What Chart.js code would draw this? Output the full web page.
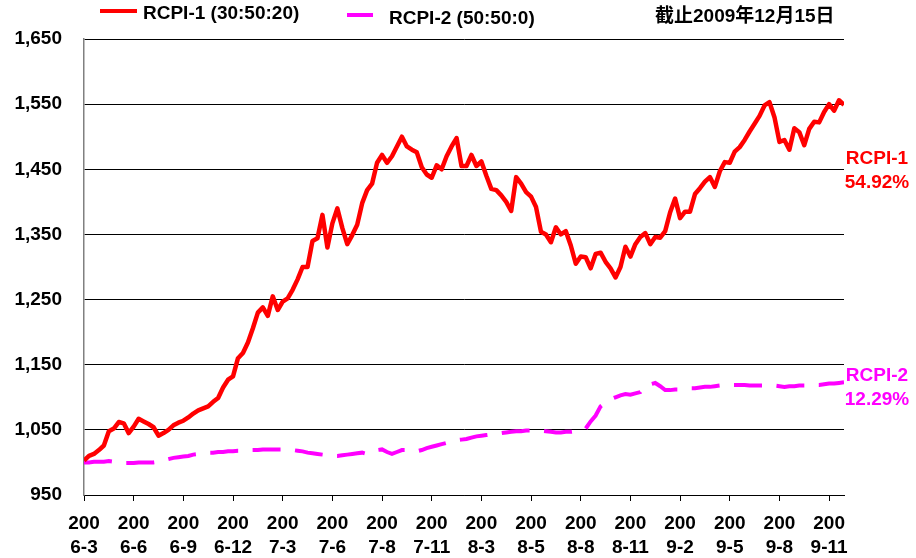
<!DOCTYPE html>
<html>
<head>
<meta charset="utf-8">
<script src="https://cdn.jsdelivr.net/npm/chart.js@4/dist/chart.umd.min.js"></script>
<style>
  html, body { margin: 0; padding: 0; background: #fff; }
  #wrap { position: relative; width: 916px; height: 558px; }
</style>
</head>
<body>
<div id="wrap"><canvas id="rcpiChart"></canvas></div>
<script>
// Tick labels on the x axis (one every 10 points)
const tickLabels = ['2006-3', '2006-6', '2006-9', '2006-12', '2007-3', '2007-6', '2007-8', '2007-11',
                    '2008-3', '2008-5', '2008-8', '2008-11', '2009-2', '2009-5', '2009-8', '2009-11'];

// RCPI-1 (30:50:20)
const rcpi1 = [
  1003, 1010, 1013, 1019, 1026, 1048, 1052, 1062, 1060, 1045,
  1055, 1067, 1063, 1059, 1054, 1041, 1045, 1050, 1057, 1061,
  1064, 1069, 1075, 1080, 1083, 1086, 1093, 1099, 1115, 1127,
  1132, 1160, 1168, 1184, 1206, 1230, 1238, 1225, 1255, 1234,
  1247, 1252, 1265, 1281, 1300, 1300, 1340, 1344, 1380, 1330,
  1367, 1390, 1360, 1335, 1349, 1365, 1398, 1418, 1428, 1460,
  1472, 1460, 1470, 1485, 1500, 1485, 1480, 1476, 1453, 1442,
  1437, 1456, 1450, 1470, 1485, 1498, 1455, 1455, 1472, 1455,
  1462, 1440, 1420, 1418, 1410, 1400, 1386, 1438, 1428, 1415,
  1408, 1392, 1354, 1350, 1338, 1361, 1350, 1355, 1333, 1305,
  1316, 1315, 1298, 1320, 1322, 1308, 1298, 1284, 1300, 1331,
  1316, 1335, 1346, 1352, 1335, 1346, 1345, 1355, 1384, 1405,
  1375, 1385, 1385, 1412, 1421, 1431, 1438, 1423, 1447, 1461,
  1460, 1477, 1484, 1495, 1508, 1520, 1532, 1548, 1553, 1530,
  1492, 1495, 1480, 1513, 1507, 1487, 1512, 1523, 1522, 1538,
  1550, 1540, 1556, 1549
];

// RCPI-2 (50:50:0)
const rcpi2 = [
  1000, 1000, 1001, 1001, 1001, 1002, 1001, 1000, 999, 999,
  999, 1000, 1000, 1000, 1000, 1001, 1003, 1005, 1007, 1008,
  1009, 1010, 1012, 1013, 1014, 1015, 1015, 1016, 1016, 1017,
  1017, 1018, 1018, 1019, 1019, 1019, 1020, 1020, 1020, 1020,
  1020, 1020, 1019, 1018, 1017, 1015, 1014, 1013, 1012, 1011,
  1010, 1010, 1011, 1012, 1013, 1014, 1015, 1013, 1016, 1019,
  1020, 1016, 1013, 1016, 1019, 1019, 1017, 1017, 1019, 1022,
  1024, 1026, 1028, 1030, 1032, 1034, 1035, 1036, 1038, 1040,
  1041, 1042, 1043, 1044, 1045, 1046, 1047, 1048, 1048, 1049,
  1049, 1049, 1049, 1048, 1047, 1046, 1046, 1047, 1047, 1048,
  1048, 1052, 1063, 1072, 1086, 1092, 1097, 1100, 1103, 1105,
  1104, 1106, 1108, 1118, 1120, 1122, 1117, 1111, 1111, 1112,
  1112, 1113, 1114, 1114, 1115, 1116, 1116, 1117, 1118, 1118,
  1119, 1119, 1119, 1119, 1118, 1118, 1118, 1118, 1118, 1118,
  1117, 1116, 1117, 1117, 1118, 1118, 1118, 1119, 1119, 1120,
  1121, 1121, 1122, 1123
];

const seriesNames = ['RCPI-1 (30:50:20)', 'RCPI-2 (50:50:0)'];
const seriesColors = ['#ff0000', '#ff00ff'];
const endLabels = [['RCPI-1', '54.92%'], ['RCPI-2', '12.29%']];
const dateNote = '截止2009年12月15日';

const FONT = '"Liberation Sans", Arial, "Noto Sans CJK SC", sans-serif';

// legend, date and end-of-line labels drawn on top of the chart
const textPlugin = {
  id: 'textPlugin',
  afterDraw(chart) {
    const c = chart.ctx;
    c.save();
    c.font = 'bold 19px ' + FONT;
    c.textBaseline = 'middle';
    c.textAlign = 'left';

    // legend
    c.lineWidth = 4;
    c.strokeStyle = seriesColors[0];
    c.beginPath(); c.moveTo(100, 11); c.lineTo(137, 11); c.stroke();
    c.fillStyle = '#000';
    c.fillText(seriesNames[0], 143, 14);

    c.strokeStyle = seriesColors[1];
    c.beginPath(); c.moveTo(347, 15); c.lineTo(373, 15); c.stroke();
    c.fillText(seriesNames[1], 389, 19);

    c.fillText(dateNote, 655, 17);

    // end labels
    c.textAlign = 'center';
    c.fillStyle = seriesColors[0];
    c.fillText(endLabels[0][0], 877, 159);
    c.fillText(endLabels[0][1], 877, 183);
    c.fillStyle = seriesColors[1];
    c.fillText(endLabels[1][0], 877, 376);
    c.fillText(endLabels[1][1], 877, 400);
    c.restore();
  }
};

const ctx = document.getElementById('rcpiChart');
new Chart(ctx, {
  type: 'line',
  data: {
    datasets: [{
      label: seriesNames[0],
      data: rcpi1.map((v, i) => ({ x: i, y: v })),
      borderColor: seriesColors[0],
      borderWidth: 4.5,
      borderJoinStyle: 'round',
      pointRadius: 0,
      tension: 0
    }, {
      label: seriesNames[1],
      data: rcpi2.map((v, i) => ({ x: i, y: v })),
      borderColor: seriesColors[1],
      borderWidth: 4,
      borderDash: [28, 14.5],
      pointRadius: 0,
      tension: 0
    }]
  },
  options: {
    responsive: true,
    maintainAspectRatio: false,
    animation: false,
    layout: { padding: { top: 39, right: 72, left: 0, bottom: 0 } },
    plugins: { legend: { display: false }, tooltip: { enabled: false } },
    scales: {
      x: {
        type: 'linear',
        min: 0,
        max: rcpi1.length - 1,
        afterFit: s => { s.height = 63; },
        grid: { drawOnChartArea: false, drawTicks: true, tickLength: 6, color: '#000' },
        border: { color: '#000', width: 1 },
        ticks: {
          stepSize: 10,
          includeBounds: false,
          autoSkip: false,
          maxRotation: 0,
          padding: 11,
          color: '#000',
          font: { family: FONT, size: 19, weight: 'bold', lineHeight: 1.24 },
          callback: v => {
            const lbl = tickLabels[v / 10];
            return lbl ? [lbl.slice(0, 3), lbl.slice(3)] : '';
          }
        }
      },
      y: {
        min: 950,
        max: 1650,
        afterFit: s => { s.width = 84; },
        grid: { color: '#000', lineWidth: 1, drawTicks: false },
        border: { color: '#808080', width: 1.5 },
        ticks: {
          stepSize: 100,
          padding: 22,
          color: '#000',
          font: { family: FONT, size: 19, weight: 'bold' },
          callback: v => v.toLocaleString('en-US')
        }
      }
    }
  },
  plugins: [textPlugin]
});
</script>
</body>
</html>
